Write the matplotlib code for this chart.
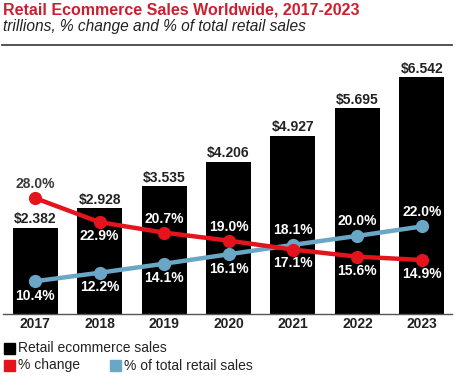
import matplotlib.pyplot as plt
from matplotlib.patches import Rectangle

years = ["2017", "2018", "2019", "2020", "2021", "2022", "2023"]
sales = [2.382, 2.928, 3.535, 4.206, 4.927, 5.695, 6.542]
pct_change = [28.0, 22.9, 20.7, 19.0, 17.1, 15.6, 14.9]
pct_total = [10.4, 12.2, 14.1, 16.1, 18.1, 20.0, 22.0]

# label placement: +1 above point, -1 below
change_pos = [1, -1, 1, 1, -1, -1, -1]
total_pos = [-1, -1, -1, -1, 1, 1, 1]

RED = "#e3141c"
BLUE = "#6aa6c6"
TITLE_RED = "#cc1f2f"
DARK = "#222222"
plt.rcParams["font.family"] = ["Liberation Sans", "DejaVu Sans"]

W, H = 455, 376
fig = plt.figure(figsize=(W / 100, H / 100), dpi=100)

def fx(px):
    return px / W

def fy(py):
    return 1 - py / H

ax_left, ax_right, ax_top, ax_bottom = 3, 454, 55, 314
ax = fig.add_axes([fx(ax_left), fy(ax_bottom), fx(ax_right - ax_left), (ax_bottom - ax_top) / H])
x = list(range(len(years)))
ax.bar(x, sales, width=0.70, color="black")
ax.set_xlim(-0.5, 6.5)
ax.set_ylim(0, (ax_bottom - ax_top) / 36.2)
for xi, v in zip(x, sales):
    ax.annotate(f"${v:.3f}", (xi, v), xytext=(0, 6), textcoords="offset points",
                ha="center", va="center", fontsize=10, fontweight="bold", color=DARK)
ax.axis("off")

# percentage scale: 0% sits ~16px below the bar baseline
zero_px, px_per_pct = 330.3, 4.72
ax2 = ax.twinx()
ax2.set_ylim((zero_px - ax_bottom) / px_per_pct, (zero_px - ax_top) / px_per_pct)
ax2.plot(x, pct_total, color=BLUE, lw=3.2, marker="o", ms=8.5, zorder=3)
ax2.plot(x, pct_change, color=RED, lw=3.2, marker="o", ms=8.5, zorder=4)
for xi, v, p in zip(x, pct_change, change_pos):
    col = "#3a3a3a" if xi == 0 else "white"
    ax2.annotate(f"{v:.1f}%", (xi, v), xytext=(0, 10 * p), textcoords="offset points",
                 ha="center", va="center", fontsize=10, fontweight="bold", color=col)
for xi, v, p in zip(x, pct_total, total_pos):
    ax2.annotate(f"{v:.1f}%", (xi, v), xytext=(0, 10.5 * p), textcoords="offset points",
                 ha="center", va="center", fontsize=10, fontweight="bold", color="white")
ax2.axis("off")

fig.add_artist(plt.Line2D([fx(3), fx(452)], [fy(314), fy(314)], color="#555555", lw=1))
for xi, yr in zip(x, years):
    fig.text(fx(ax_left + (xi + 0.5) * (ax_right - ax_left) / 7), fy(324.5), yr,
             ha="center", va="center", fontsize=10, fontweight="bold", color=DARK)

fig.text(fx(3), fy(10), "Retail Ecommerce Sales Worldwide, 2017-2023",
         ha="left", va="center", fontsize=11.5, fontweight="bold", color=TITLE_RED)
fig.text(fx(3), fy(27), "trillions, % change and % of total retail sales",
         ha="left", va="center", fontsize=11.2, style="italic", color=DARK)
fig.add_artist(plt.Line2D([fx(2), fx(452)], [fy(45), fy(45)], color="#444444", lw=1.3))

legend = [(4, 348.5, "black", "Retail ecommerce sales"),
          (4, 365.5, RED, "% change"),
          (110, 365.5, BLUE, "% of total retail sales")]
for px, py, c, label in legend:
    fig.add_artist(Rectangle((fx(px), fy(py + 5.5)), fx(11), 11 / H, color=c,
                             transform=fig.transFigure))
    fig.text(fx(px + 14), fy(py), label, ha="left", va="center",
             fontsize=10, color=DARK)

fig.savefig("out.png", dpi=100)
